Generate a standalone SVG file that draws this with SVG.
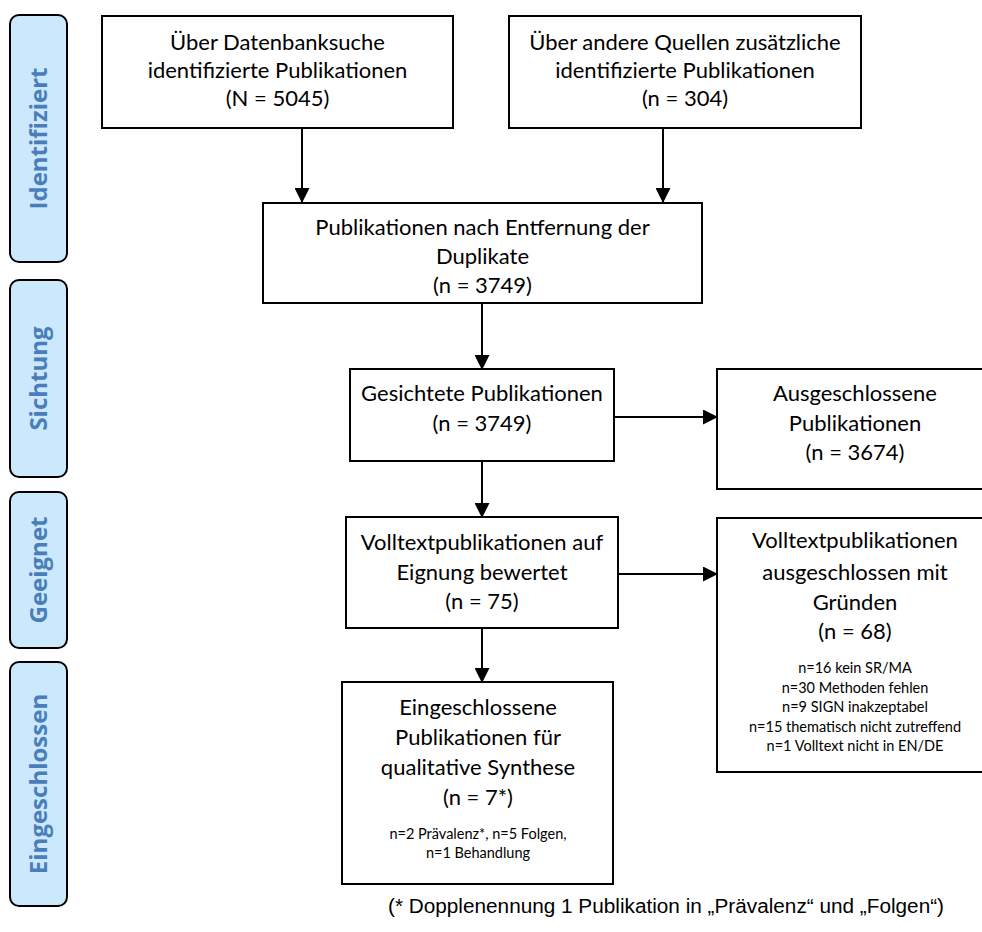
<svg xmlns="http://www.w3.org/2000/svg" width="982" height="932" viewBox="0 0 982 932">
<defs>
<style>
.box{fill:#fff;stroke:#000;stroke-width:2}
.side{fill:#cce8fd;stroke:#000;stroke-width:2}
.t{font-family:Lato,"Liberation Sans",sans-serif;font-size:22px;fill:#000;text-anchor:middle}
.s{font-family:Lato,"Liberation Sans",sans-serif;font-size:14.5px;fill:#000;text-anchor:middle}
.lab{font-family:"Open Sans","Liberation Sans",sans-serif;font-weight:bold;font-size:24px;fill:#4a7ebb;text-anchor:middle}
.fn{font-family:"Liberation Sans",Arial,sans-serif;font-size:20px;fill:#000}
.c{stroke:#000;stroke-width:2;fill:none;marker-end:url(#ah)}
</style>
<marker id="ah" markerWidth="15" markerHeight="15" refX="14" refY="7.5" orient="auto" markerUnits="userSpaceOnUse">
<path d="M0,0 L15,7.5 L0,15 Z" fill="#000"/>
</marker>
</defs>
<rect width="982" height="932" fill="#fff"/>

<g id="phase-identifiziert">
<rect class="side" x="10" y="15" width="57" height="247" rx="9"/>
<text class="lab" transform="translate(47,138.5) rotate(-90)">Identifiziert</text>
</g>
<g id="phase-sichtung">
<rect class="side" x="10" y="280" width="57" height="197" rx="9"/>
<text class="lab" transform="translate(47,378.5) rotate(-90)">Sichtung</text>
</g>
<g id="phase-geeignet">
<rect class="side" x="10" y="492" width="57" height="156" rx="9"/>
<text class="lab" transform="translate(47,570) rotate(-90)">Geeignet</text>
</g>
<g id="phase-eingeschlossen">
<rect class="side" x="10" y="662" width="57" height="244" rx="9"/>
<text class="lab" transform="translate(47,784) rotate(-90)">Eingeschlossen</text>
</g>

<g id="connectors">
<line class="c" x1="302" y1="128" x2="302" y2="202"/>
<line class="c" x1="663" y1="128" x2="663" y2="202"/>
<line class="c" x1="482" y1="303" x2="482" y2="369"/>
<line class="c" x1="614" y1="417" x2="717" y2="417"/>
<line class="c" x1="482" y1="461" x2="482" y2="517"/>
<line class="c" x1="618" y1="574" x2="717" y2="574"/>
<line class="c" x1="482" y1="628" x2="482" y2="682"/>
</g>

<g id="n-datenbank">
<rect class="box" x="102" y="16" width="351" height="112"/>
<text class="t" x="277.5" y="50">Über Datenbanksuche</text>
<text class="t" x="277.5" y="78">identifizierte Publikationen</text>
<text class="t" x="277.5" y="106">(N = 5045)</text>
</g>
<g id="n-andere">
<rect class="box" x="509" y="16" width="352" height="112"/>
<text class="t" x="685" y="50">Über andere Quellen zusätzliche</text>
<text class="t" x="685" y="78">identifizierte Publikationen</text>
<text class="t" x="685" y="106">(n = 304)</text>
</g>
<g id="n-duplikate">
<rect class="box" x="263" y="203" width="439" height="100"/>
<text class="t" x="482.5" y="235">Publikationen nach Entfernung der</text>
<text class="t" x="482.5" y="264">Duplikate</text>
<text class="t" x="482.5" y="293">(n = 3749)</text>
</g>
<g id="n-gesichtet">
<rect class="box" x="350" y="369" width="264" height="92"/>
<text class="t" x="482" y="401">Gesichtete Publikationen</text>
<text class="t" x="482" y="431">(n = 3749)</text>
</g>
<g id="n-ausgeschlossen">
<rect class="box" x="717" y="369" width="276" height="120"/>
<text class="t" x="855" y="401">Ausgeschlossene</text>
<text class="t" x="855" y="431">Publikationen</text>
<text class="t" x="855" y="460">(n = 3674)</text>
</g>
<g id="n-volltext">
<rect class="box" x="346" y="517" width="272" height="111"/>
<text class="t" x="482" y="550">Volltextpublikationen auf</text>
<text class="t" x="482" y="580">Eignung bewertet</text>
<text class="t" x="482" y="609">(n = 75)</text>
</g>
<g id="n-volltext-ausgeschlossen">
<rect class="box" x="717" y="518" width="276" height="254"/>
<text class="t" x="855" y="548">Volltextpublikationen</text>
<text class="t" x="855" y="580">ausgeschlossen mit</text>
<text class="t" x="855" y="610">Gründen</text>
<text class="t" x="855" y="639">(n = 68)</text>
<text class="s" x="855" y="673">n=16 kein SR/MA</text>
<text class="s" x="855" y="693">n=30 Methoden fehlen</text>
<text class="s" x="855" y="712">n=9 SIGN inakzeptabel</text>
<text class="s" x="855" y="732">n=15 thematisch nicht zutreffend</text>
<text class="s" x="855" y="751">n=1 Volltext nicht in EN/DE</text>
</g>
<g id="n-eingeschlossen">
<rect class="box" x="342" y="682" width="271" height="202"/>
<text class="t" x="478" y="715">Eingeschlossene</text>
<text class="t" x="478" y="745">Publikationen für</text>
<text class="t" x="478" y="775">qualitative Synthese</text>
<text class="t" x="478" y="805">(n = 7*)</text>
<text class="s" x="478" y="839">n=2 Prävalenz*, n=5 Folgen,</text>
<text class="s" x="478" y="858">n=1 Behandlung</text>
</g>

<text class="fn" x="388" y="913" textLength="556" lengthAdjust="spacingAndGlyphs">(* Dopplenennung 1 Publikation in „Prävalenz“ und „Folgen“)</text>
</svg>
